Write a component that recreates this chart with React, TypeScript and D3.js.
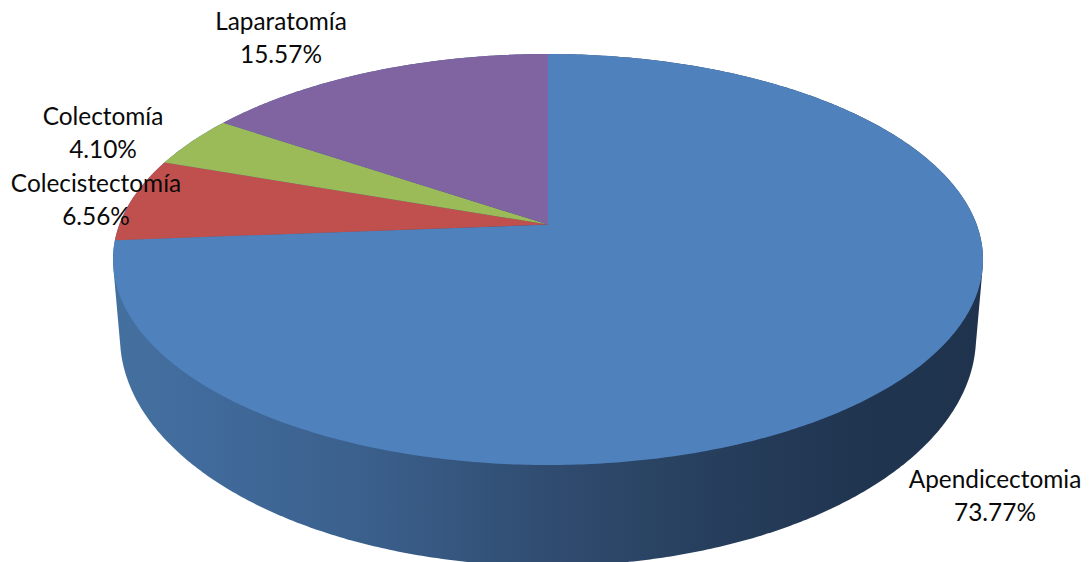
import React from "react";
import * as d3 from "d3";

// Surgical procedures, clockwise from twelve o'clock
const procedures = ["Apendicectomia", "Colecistectomía", "Colectomía", "Laparatomía"];
const shares = [73.77, 6.56, 4.1, 15.57];
const sliceColors = ["#4f81bd", "#c0504d", "#9bbb59", "#8064a2"];

const WIDTH = 1089;
const HEIGHT = 562;

// Rim of the top face and of the bottom face (screen pixels)
const top = { cx: 548, cy: 259.5, rx: 435, ry: 205.5 };
const bottom = { cx: 548, cy: 337, rx: 428, ry: 229 };
// Perspective shift: how far the disc centre sits above the middle of the rim ellipse
const tilt = -0.17;

const xTop = d3.scaleLinear().domain([-1, 1]).range([top.cx - top.rx, top.cx + top.rx]);
const yTop = d3.scaleLinear().domain([-1, 1]).range([top.cy - top.ry, top.cy + top.ry]);

// Projects a point of the unit disc to the screen so circles stay ellipses
function project(u: number, v: number): [number, number] {
  const d = 1 + tilt * v;
  return [xTop((Math.sqrt(1 - tilt * tilt) * u) / d), yTop((v + tilt) / d)];
}

const rimPoint = (a: number) => project(Math.sin(a), -Math.cos(a));

const pie = d3.pie<number>().sort(null).startAngle(0).endAngle(2 * Math.PI);
const arcs = pie(shares);
const line = d3.line();

function slicePath(start: number, end: number) {
  const n = Math.max(2, Math.ceil((end - start) / 0.01));
  const rim = d3.range(n + 1).map((i) => rimPoint(start + ((end - start) * i) / n));
  return line([project(0, 0), ...rim]) + "Z";
}

// Outer wall: convex hull of both rims
const turn = d3.range(0, 2 * Math.PI, 0.01);
const wallHull = d3.polygonHull([
  ...turn.map((a) => [top.cx + top.rx * Math.cos(a), top.cy + top.ry * Math.sin(a)] as [number, number]),
  ...turn.map((a) => [bottom.cx + bottom.rx * Math.cos(a), bottom.cy + bottom.ry * Math.sin(a)] as [number, number]),
])!;

const wallStops: [number, string][] = [
  [0, "#44709f"],
  [0.1, "#416b9c"],
  [0.3, "#3a5f8b"],
  [0.5, "#304c70"],
  [0.7, "#263e5c"],
  [0.85, "#203550"],
  [1, "#1f334d"],
];

const labelAnchors = [
  { x: 995, y: 488 },
  { x: 96, y: 192 },
  { x: 103, y: 125 },
  { x: 281, y: 30 },
];

export default function App() {
  return (
    <svg
      width={WIDTH}
      height={HEIGHT}
      viewBox={`0 0 ${WIDTH} ${HEIGHT}`}
      style={{ position: "fixed", left: 0, top: 0, background: "#fff" }}
    >
      <defs>
        <linearGradient id="wall" x1={113} x2={983} y1={0} y2={0} gradientUnits="userSpaceOnUse">
          {wallStops.map(([o, c]) => (
            <stop key={o} offset={o} stopColor={c} />
          ))}
        </linearGradient>
      </defs>
      <path d={line(wallHull) + "Z"} fill="url(#wall)" />
      {arcs.map((a, i) => (
        <path key={i} d={slicePath(a.startAngle, a.endAngle)} fill={sliceColors[i]} />
      ))}
      <g fontFamily="Lato, 'Open Sans', sans-serif" fontSize={24.4} fill="#0a0a0a" textAnchor="middle">
        {procedures.map((name, i) => (
          <text key={name} x={labelAnchors[i].x} y={labelAnchors[i].y}>
            <tspan x={labelAnchors[i].x}>{name}</tspan>
            <tspan x={labelAnchors[i].x} dy={33}>{`${shares[i].toFixed(2)}%`}</tspan>
          </text>
        ))}
      </g>
    </svg>
  );
}
